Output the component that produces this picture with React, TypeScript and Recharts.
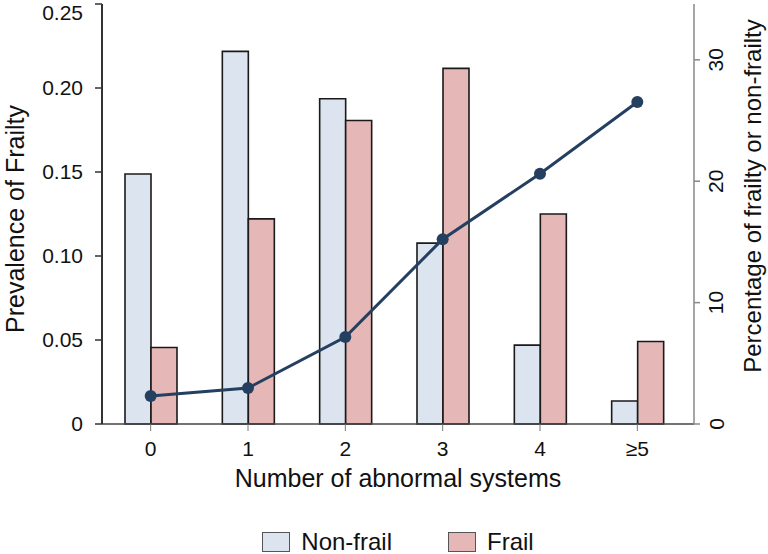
import { ComposedChart, Bar, Line, XAxis, YAxis, Legend } from 'recharts';

const categories = ['0', '1', '2', '3', '4', '≥5'];
// bars: percentage of non-frail / frail subjects (right axis)
const nonFrailPct = [20.6, 30.7, 26.8, 14.9, 6.5, 1.9];
const frailPct = [6.3, 16.9, 25.0, 29.3, 17.3, 6.8];
// line: prevalence of frailty (left axis)
const prevalence = [0.0167, 0.0214, 0.0518, 0.11, 0.149, 0.1917];

const leftTicks = [0, 0.05, 0.1, 0.15, 0.2, 0.25];
const rightTicks = [0, 10, 20, 30];

const FONT = '"Liberation Sans", Arial, sans-serif';
const NAVY = '#243f60';
const BLUE = '#dce4ef';
const PINK = '#e5b8b7';

const data = categories.map((c, i) => ({
  cat: c,
  nonFrail: nonFrailPct[i],
  frail: frailPct[i],
  prev: prevalence[i],
}));

function LeftTitle(props: any) {
  const vb = props.viewBox;
  const cx = vb.x + 15;
  const cy = vb.y + vb.height / 2 + 5;
  return (
    <text x={cx} y={cy} transform={`rotate(-90, ${cx}, ${cy})`} textAnchor="middle"
      dominantBaseline="central" fontSize={25} fill="#111" fontFamily={FONT}>
      Prevalence of Frailty
    </text>
  );
}

function RightTitle(props: any) {
  const vb = props.viewBox;
  const cx = vb.x + 58;
  const cy = vb.y + vb.height / 2 - 18;
  return (
    <text x={cx} y={cy} transform={`rotate(-90, ${cx}, ${cy})`} textAnchor="middle"
      dominantBaseline="central" fontSize={24} fill="#111" fontFamily={FONT}>
      Percentage of frailty or non-frailty
    </text>
  );
}

function BottomTitle(props: any) {
  const vb = props.viewBox;
  return (
    <text x={vb.x + vb.width / 2} y={vb.y + 63} textAnchor="middle"
      fontSize={25} fill="#111" fontFamily={FONT}>
      Number of abnormal systems
    </text>
  );
}

function RightTick(props: any) {
  const { x, y, payload } = props;
  return (
    <text x={x} y={y} transform={`rotate(-90, ${x}, ${y})`} textAnchor="middle"
      dominantBaseline="central" fontSize={21} fill="#111" fontFamily={FONT}>
      {payload.value}
    </text>
  );
}

function LegendBox() {
  const items = [
    { name: 'Non-frail', color: BLUE },
    { name: 'Frail', color: PINK },
  ];
  return (
    <div style={{ display: 'flex', justifyContent: 'center', fontFamily: FONT, fontSize: 24, lineHeight: '22px', color: '#111' }}>
      {items.map((it, i) => (
        <div key={it.name} style={{ display: 'flex', alignItems: 'center', marginLeft: i ? 56 : 0 }}>
          <span style={{ width: 26, height: 18, background: it.color, border: '1px solid #555', marginRight: 11 }} />
          <span>{it.name}</span>
        </div>
      ))}
    </div>
  );
}

export default function App() {
  return (
    <div style={{ position: 'absolute', left: 0, top: 0, width: 768, height: 554, background: '#fff' }}>
      <ComposedChart width={768} height={554} data={data}
        margin={{ top: 4, right: 0, bottom: 60, left: 0 }} barGap={0}>
        <XAxis dataKey="cat" height={70} padding={{ left: 0, right: 8 }}
          axisLine={{ stroke: '#444', strokeWidth: 1.5 }} tickLine={{ stroke: '#777' }}
          tickSize={7} tickMargin={10}
          tick={{ fontSize: 21, fill: '#111', fontFamily: FONT }}
          label={BottomTitle} />
        <YAxis yAxisId="prev" orientation="left" width={102} domain={[0, 0.25]} ticks={leftTicks}
          tickFormatter={(v: number) => (v === 0 ? '0' : v.toFixed(2))}
          axisLine={{ stroke: '#333', strokeWidth: 2 }} tickLine={{ stroke: '#333', strokeWidth: 1.5 }}
          tickSize={7} tickMargin={12}
          tick={{ fontSize: 21, fill: '#111', fontFamily: FONT }}
          label={LeftTitle} />
        <YAxis yAxisId="pct" orientation="right" width={74} domain={[0, 34.6]} ticks={rightTicks}
          axisLine={{ stroke: '#888', strokeWidth: 1.5 }} tickLine={{ stroke: '#888', strokeWidth: 1.5 }}
          tickSize={6} tickMargin={16}
          tick={<RightTick />}
          label={RightTitle} />
        <Legend verticalAlign="middle" layout="horizontal" content={<LegendBox />}
          wrapperStyle={{ top: 531, left: 102, width: 592, height: 22 }} />
        <Bar yAxisId="pct" dataKey="nonFrail" name="Non-frail" fill={BLUE} stroke="#1a1a1a"
          strokeWidth={1.6} barSize={26} isAnimationActive={false} />
        <Bar yAxisId="pct" dataKey="frail" name="Frail" fill={PINK} stroke="#1a1a1a"
          strokeWidth={1.6} barSize={26} isAnimationActive={false} />
        <Line yAxisId="prev" dataKey="prev" stroke={NAVY} strokeWidth={3} type="linear"
          dot={{ r: 6, fill: NAVY, stroke: NAVY, strokeWidth: 0 }} isAnimationActive={false}
          legendType="none" />
      </ComposedChart>
    </div>
  );
}
